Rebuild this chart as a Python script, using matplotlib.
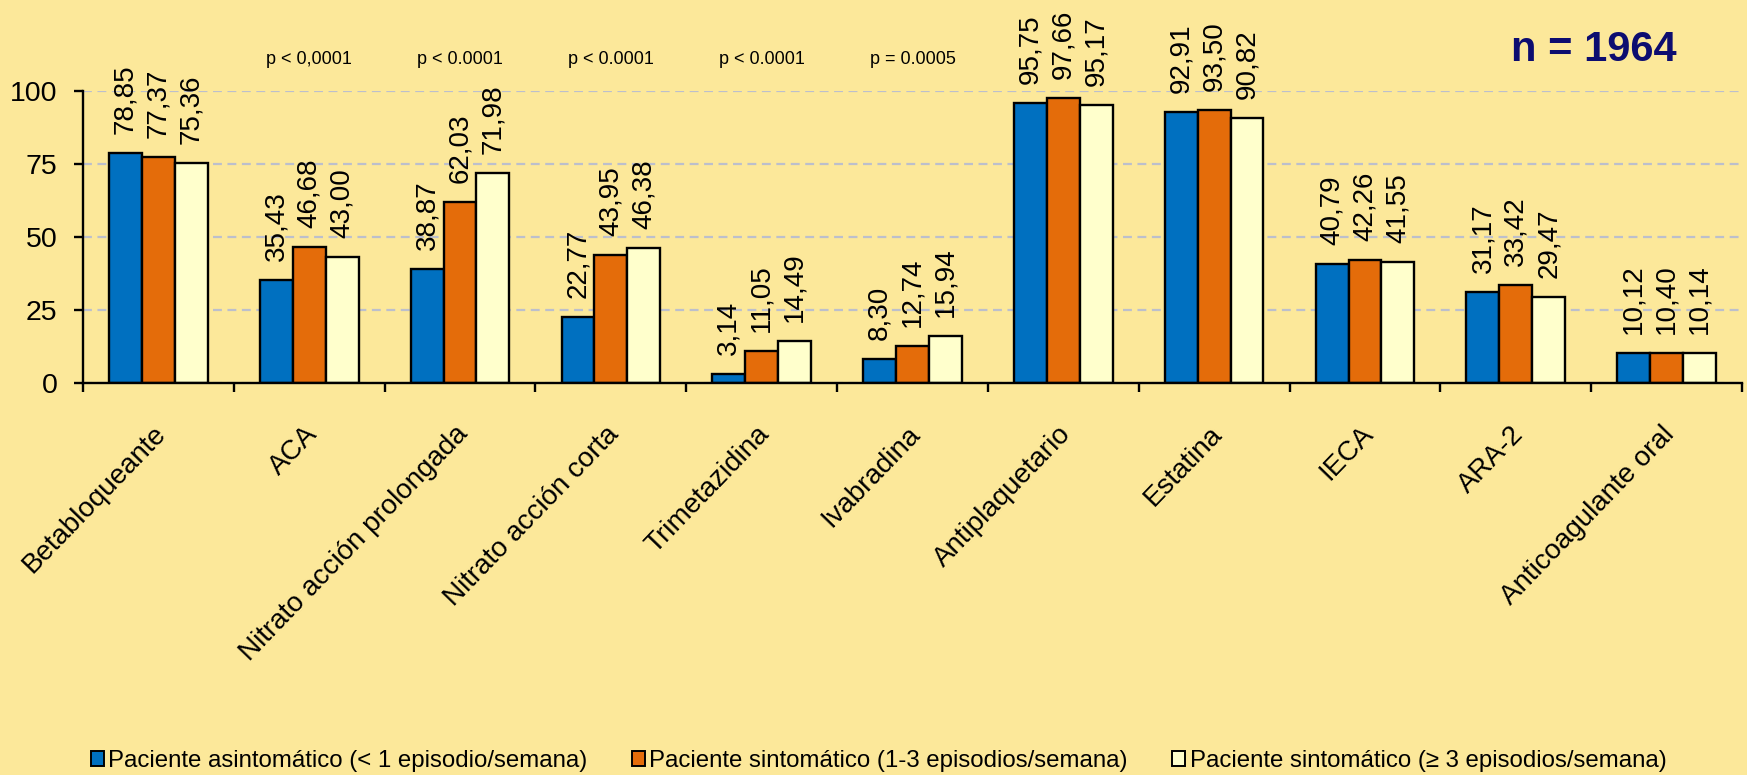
import matplotlib
matplotlib.use('Agg')
import matplotlib.pyplot as plt
from matplotlib import font_manager as fm
from matplotlib.patches import Patch
import numpy as np

# ---------------- data ----------------
categories = ['Betabloqueante', 'ACA', 'Nitrato acción prolongada', 'Nitrato acción corta',
              'Trimetazidina', 'Ivabradina', 'Antiplaquetario', 'Estatina', 'IECA', 'ARA-2',
              'Anticoagulante oral']
asintomatico = [78.85, 35.43, 38.87, 22.77, 3.14, 8.30, 95.75, 92.91, 40.79, 31.17, 10.12]
sintomatico_1_3 = [77.37, 46.68, 62.03, 43.95, 11.05, 12.74, 97.66, 93.50, 42.26, 33.42, 10.40]
sintomatico_3 = [75.36, 43.00, 71.98, 46.38, 14.49, 15.94, 95.17, 90.82, 41.55, 29.47, 10.14]
series_names = ['Paciente asintomático (< 1 episodio/semana)',
                'Paciente sintomático (1-3 episodios/semana)',
                'Paciente sintomático (≥ 3 episodios/semana)']
p_values = ['', 'p < 0,0001', 'p < 0.0001', 'p < 0.0001', 'p < 0.0001', 'p = 0.0005',
            '', '', '', '', '']
yticks = [0, 25, 50, 75, 100]
sample_label = 'n = 1964'

# ---------------- style ----------------
colors = ['#0070C0', '#E46C0A', '#FFFFCC']
bg = '#FCE89A'
names = {f.name for f in fm.fontManager.ttflist}
base = 'Liberation Sans' if 'Liberation Sans' in names else 'DejaVu Sans'
narrow = 'Liberation Sans Narrow' if 'Liberation Sans Narrow' in names else base
plt.rcParams['font.family'] = [base, 'DejaVu Sans']

W, H, DPI = 1747, 775, 100
fig = plt.figure(figsize=(W / DPI, H / DPI), dpi=DPI, facecolor=bg)
ax = fig.add_axes([83 / W, 1 - 383 / H, (1742 - 83) / W, (383 - 91) / H])
ax.set_facecolor(bg)

x = np.arange(len(categories))
bw = 0.218
series = [asintomatico, sintomatico_1_3, sintomatico_3]
for k, vals in enumerate(series):
    pos = x + (k - 1) * bw
    ax.bar(pos, vals, width=bw, color=colors[k], edgecolor='black', linewidth=1.7,
           zorder=3, label=series_names[k])
    for xi, v in zip(pos, vals):
        ax.annotate(f'{v:.2f}'.replace('.', ','), xy=(xi, v), xytext=(0, 19),
                    textcoords='offset pixels', rotation=90, ha='center', va='bottom',
                    fontsize=20, color='black', annotation_clip=False, zorder=4)

ax.set_xlim(-0.5, len(categories) - 0.5)
ax.set_ylim(0, 100)
ax.set_yticks(yticks)
ax.set_yticklabels([str(t) for t in yticks], fontsize=20.5, family=[narrow, 'DejaVu Sans'])
ax.tick_params(axis='y', direction='out', length=6.5, width=1.7, pad=12)

# x ticks at category boundaries
ax.set_xticks(np.arange(len(categories) + 1) - 0.5)
ax.set_xticklabels([])
ax.tick_params(axis='x', direction='out', length=6.5, width=1.7)

for s in ['top', 'right']:
    ax.spines[s].set_visible(False)
for s in ['left', 'bottom']:
    ax.spines[s].set_linewidth(1.7)
    ax.spines[s].set_zorder(5)

# dashed grid
ax.yaxis.grid(True, linestyle=(0, (4, 2.5)), color='#BCBFCC', linewidth=1.6, zorder=1)
ax.set_axisbelow(True)

# category labels
for xi, lab in zip(x, categories):
    ax.annotate(lab, xy=(xi, 0), xytext=(4, -47), textcoords='offset pixels',
                rotation=46, rotation_mode='anchor', ha='right', va='center',
                fontsize=20, annotation_clip=False)

# p-values
for xi, p in zip(x, p_values):
    if p:
        ax.annotate(p, xy=(xi, 100), xytext=(0, 32), textcoords='offset pixels',
                    ha='center', va='center', fontsize=13,
                    family=[narrow, 'DejaVu Sans'] if narrow != base else [base],
                    annotation_clip=False)

fig.text(1594 / W, 1 - 50 / H, sample_label, ha='center', va='center', fontsize=30,
         fontweight='bold', color='#0D0D70')

handles = [Patch(facecolor=colors[k], edgecolor='black', linewidth=1.4, label=series_names[k])
           for k in range(3)]
fig.legend(handles=handles, loc='center', bbox_to_anchor=(0.503, 1 - 761 / H), ncol=3,
           frameon=False, fontsize=17.3, handlelength=0.52, handleheight=0.57,
           handletextpad=0.2, columnspacing=1.85)

fig.savefig('out.png', dpi=DPI, facecolor=bg)
